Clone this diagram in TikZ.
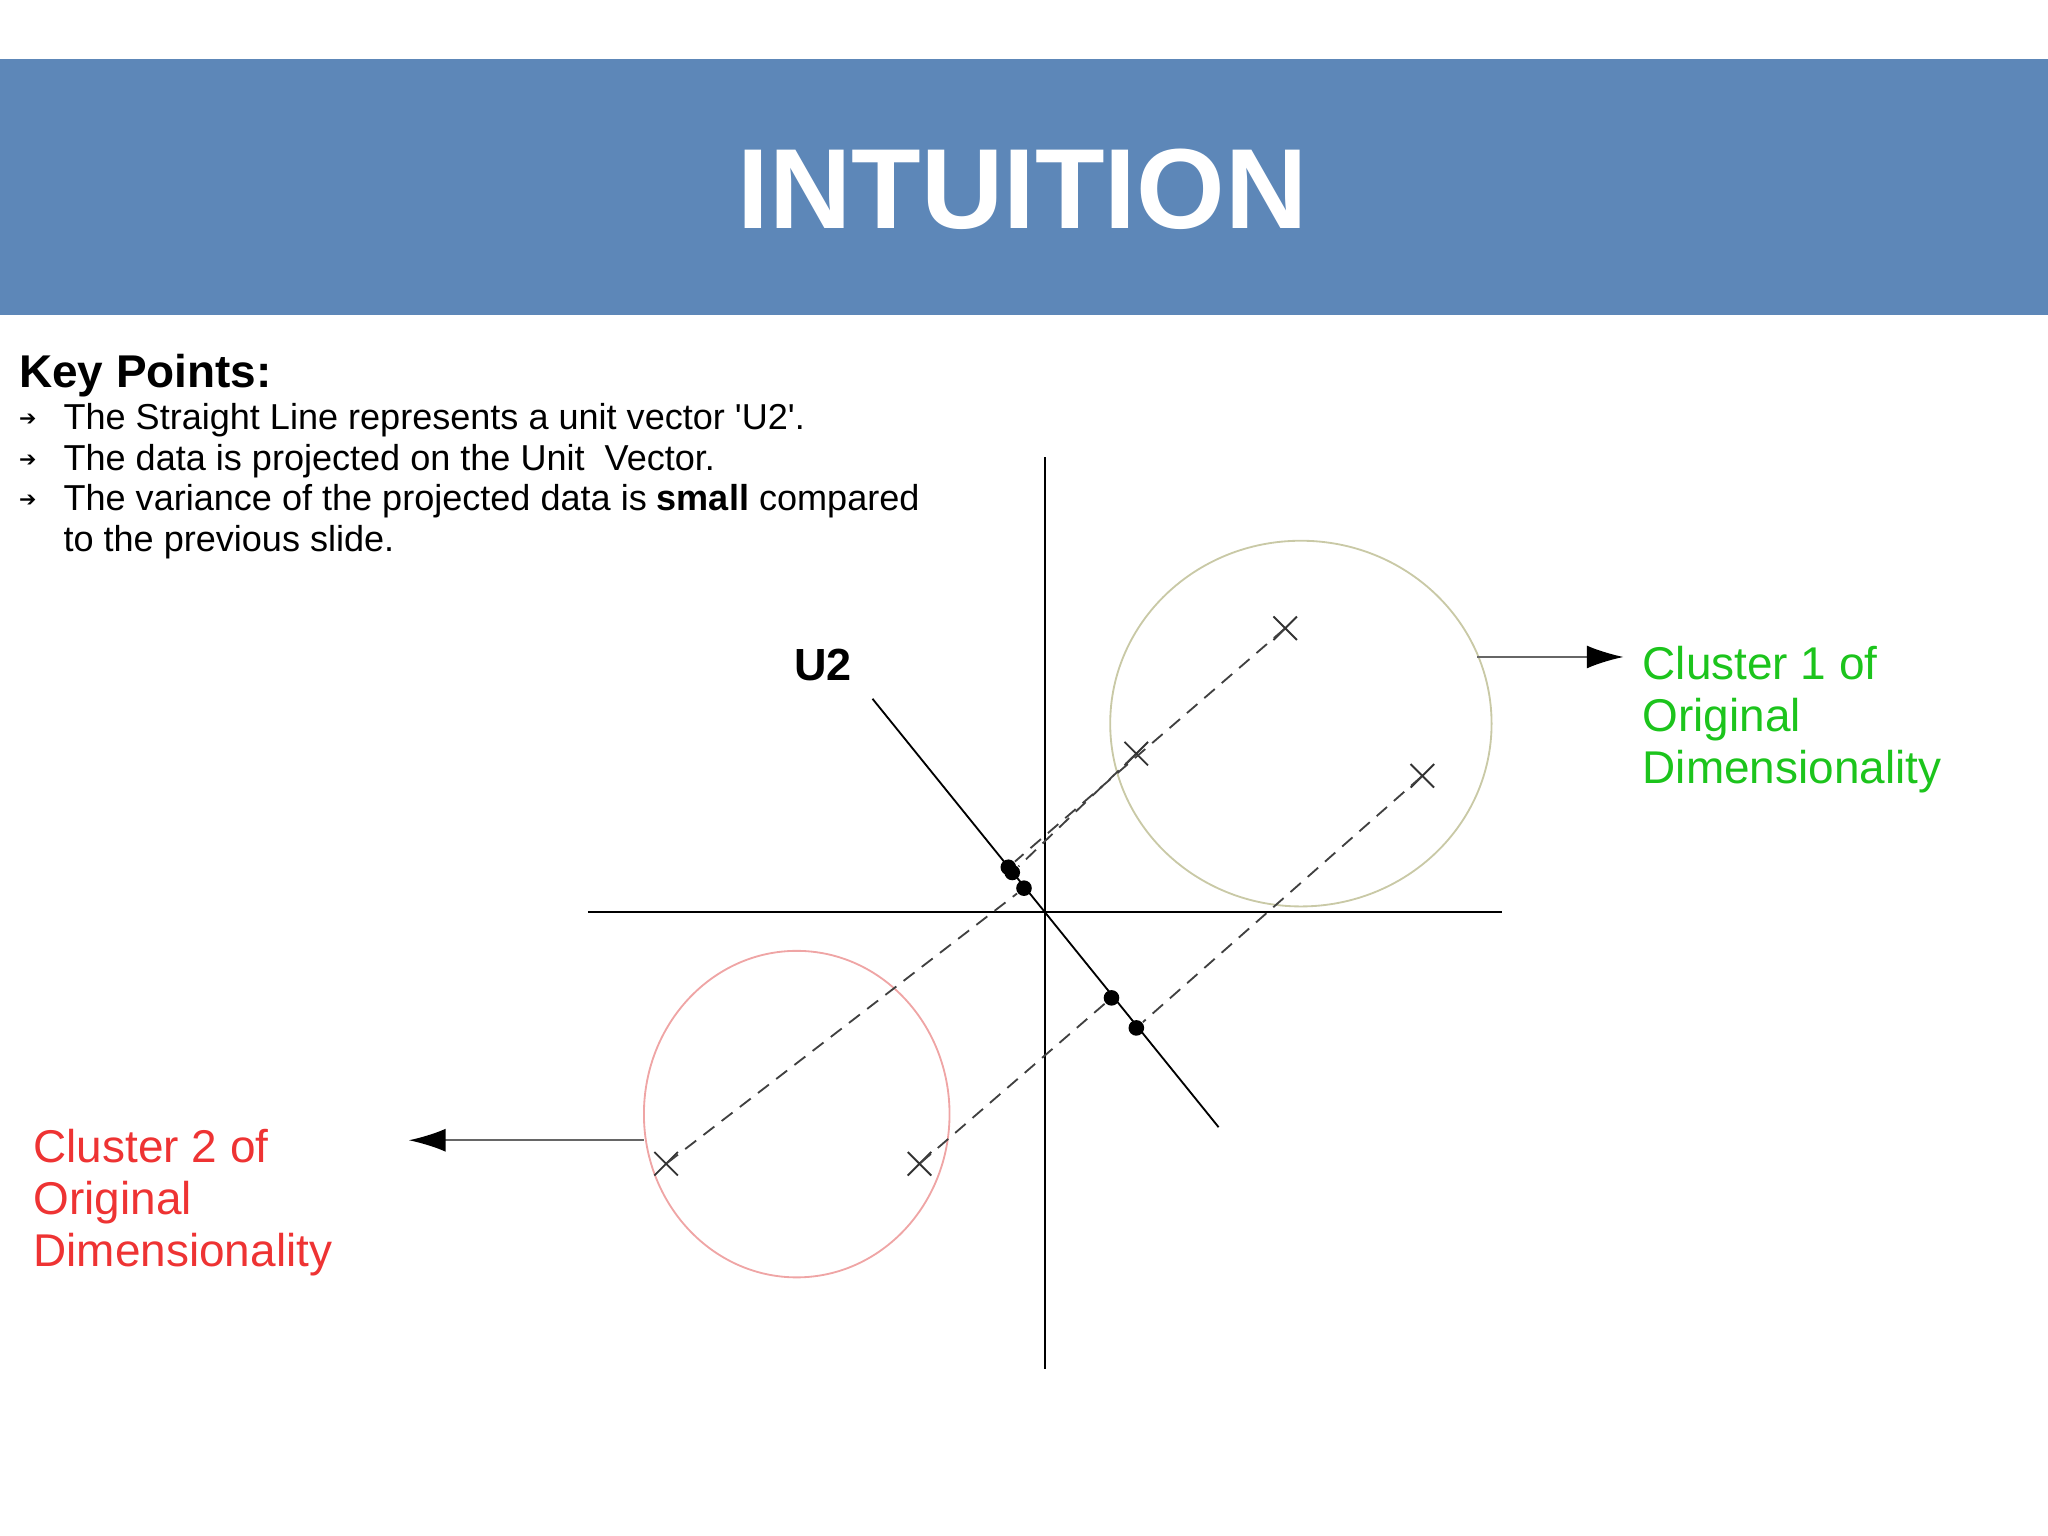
\documentclass[tikz,border=0pt]{standalone}
\usepackage{fontspec}
\setmainfont{Liberation Sans}
\newfontfamily\symf{DejaVu Sans}
\newfontfamily\plainf[Ligatures=ResetAll]{Liberation Sans}
\usetikzlibrary{arrows.meta,calc}
\definecolor{banner}{HTML}{5D87B8}
\definecolor{gr}{HTML}{1CC41C}
\definecolor{rd}{HTML}{EE3333}
\definecolor{c1}{HTML}{C9C9A6}
\definecolor{c2}{HTML}{EFA5A5}
\begin{document}
\begin{tikzpicture}[x=0.01cm,y=-0.01cm,
  body/.style={anchor=base west,inner sep=0pt,font=\fontsize{7.85pt}{9pt}\selectfont},
  clus/.style={anchor=north west,inner sep=0pt,align=left,font=\fontsize{10pt}{11.3pt}\selectfont},
  dsh/.style={dashed,dash pattern=on 3pt off 2pt,thin,black!75},
  xmark/.style={inner sep=0pt,minimum size=0pt},
  dotn/.style={circle,fill=black,inner sep=0pt,minimum size=3.4pt}]
\useasboundingbox (0,0) rectangle (1568,1176);
\fill[banner] (0,45) rectangle (1568,241);
\node[text=white,font=\fontsize{24.8pt}{28pt}\selectfont\bfseries] (title) at (783,145) {INTUITION};
\node[body,font=\fontsize{10pt}{11pt}\selectfont\bfseries] (kp) at (14,297) {Key Points:};
\foreach \y/\t [count=\i] in {329/{The Straight Line represents a unit vector {\plainf 'U2'}.},360/{The data is projected on the Unit\ \ Vector.},391/{The variance of the projected data is \textbf{small} compared}}{
  \node[body,font=\symf\fontsize{4.5pt}{5pt}\selectfont] (b\i) at (14,\y-3) {➔};
  \node[body] (t\i) at (48,\y) {\t};}
\node[body] (t4) at (48,422) {to the previous slide.};
% axes
\coordinate (vt) at (800,350); \coordinate (vb) at (800,1048);
\coordinate (hl) at (450,698); \coordinate (hr) at (1150,698);
\draw[thin] (vt)--(vb); \draw[thin] (hl)--(hr);
\coordinate (ua) at (668,535); \coordinate (ub) at (933,863);
\draw[thin] (ua)--(ub);
\node[font=\fontsize{9.8pt}{11pt}\selectfont\bfseries] (u2) at (630,509) {U2};
% circles
\draw[c1,thin] (996,554) ellipse [x radius=146,y radius=140];
\draw[c2,thin] (610,853) ellipse [x radius=117,y radius=125];
% crosses
\foreach \n/\p in {x1/{(984,481)},x2/{(870,577)},x3/{(1089,594)},x4/{(510,891)},x5/{(704,891)}}{
  \node[xmark] (\n) at \p {};
  \draw[thin,black!80] ($(\n)+(-9,-9)$)--($(\n)+(9,9)$) ($(\n)+(-9,9)$)--($(\n)+(9,-9)$);}
\foreach \n/\p in {d1/{(772,664)},d2/{(775,668)},d3/{(784,680)},d4/{(851,764)},d5/{(870,787)}}{
  \node[dotn] (\n) at \p {};}
\draw[dsh] (x1)--(d1); \draw[dsh] (x2)--(d2); \draw[dsh] (x3)--(d5);
\draw[dsh] (x4)--(d3); \draw[dsh] (x5)--(d4);
% arrows
\coordinate (a1s) at (1131,503); \coordinate (a1e) at (1243,503);
\draw[black!60,thin,-{Latex[length=8pt,width=5pt,black]}] (a1s)--(a1e);
\coordinate (a2s) at (493,873); \coordinate (a2e) at (313,873);
\draw[black!60,thin,-{Latex[length=8pt,width=5pt,black]}] (a2s)--(a2e);
\node[clus,text=gr] (l1) at (1257,494) {Cluster 1 of\\Original\\Dimensionality};
\node[clus,text=rd] (l2) at (25,864) {Cluster 2 of\\Original\\Dimensionality};
\end{tikzpicture}
\end{document}
